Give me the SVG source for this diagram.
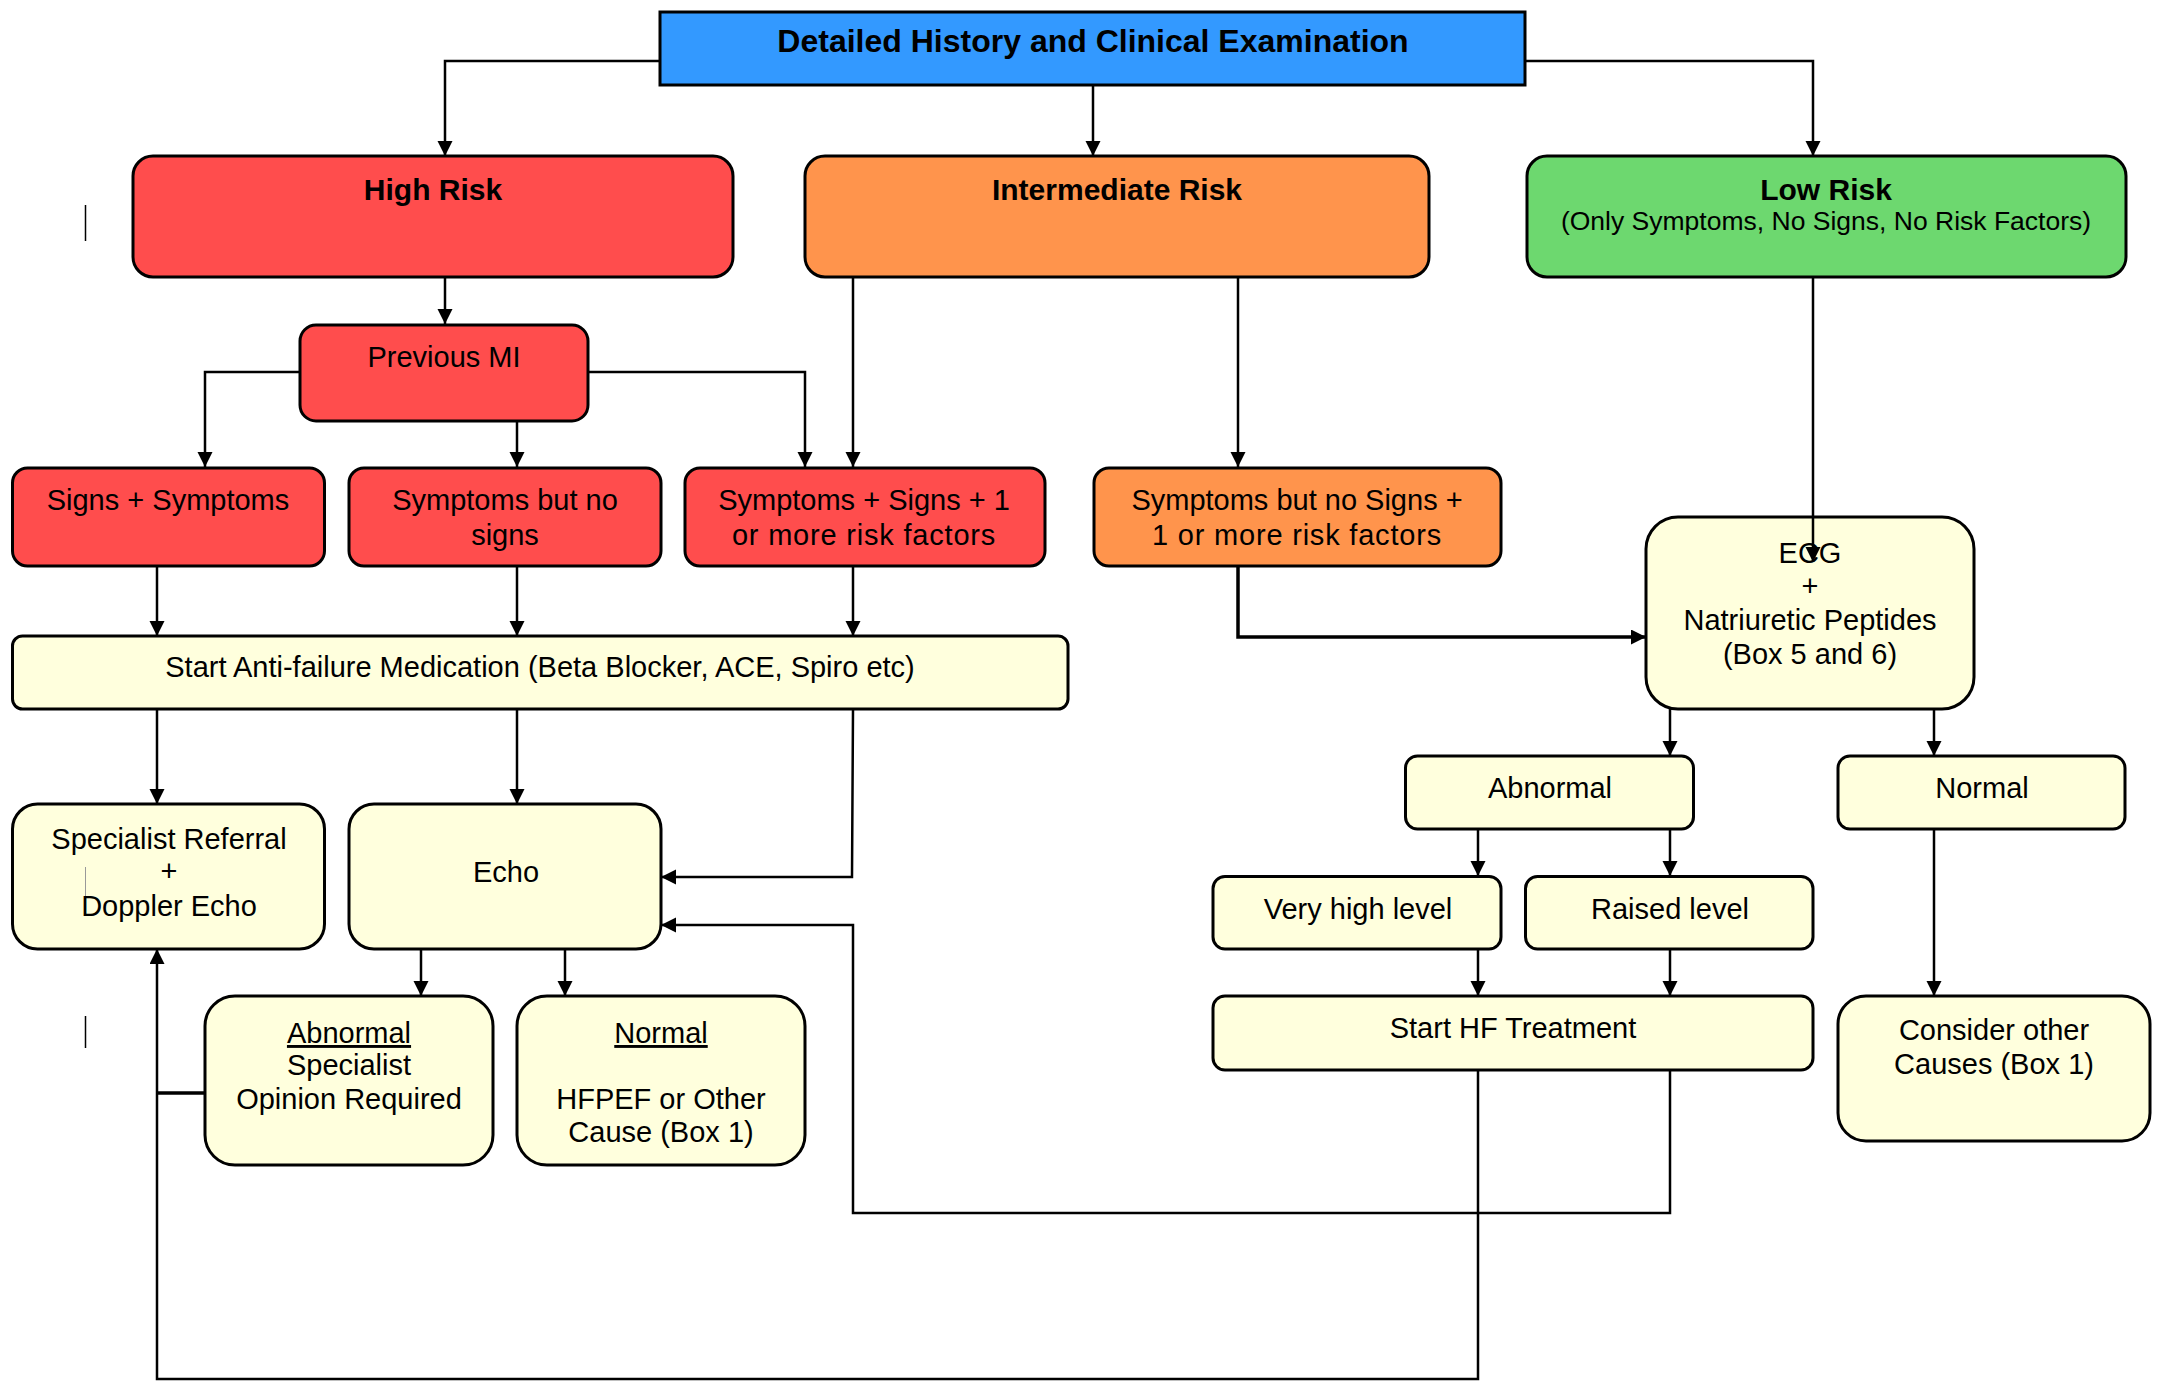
<svg xmlns="http://www.w3.org/2000/svg" width="2161" height="1381" viewBox="0 0 2161 1381">
<defs>
<marker id="arr" markerUnits="userSpaceOnUse" markerWidth="16" markerHeight="16" refX="15" refY="7.5" orient="auto">
<path d="M0,0 L15,7.5 L0,15 z" fill="#000"/>
</marker>
<style>
.box{stroke:#000;stroke-width:3}
.red{fill:#FF4D4D}
.org{fill:#FF944C}
.grn{fill:#6DD86F}
.yel{fill:#FFFFDD}
.blu{fill:#3399FF}
text{font-family:"Liberation Sans",Arial,sans-serif;font-size:29px;fill:#000;text-anchor:middle}
.b{font-weight:bold;font-size:30px}
.t{font-weight:bold;font-size:32px}
.s{font-size:26.5px}
.u{text-decoration:underline}
.w{letter-spacing:0.8px}
.c{fill:none;stroke:#000;stroke-width:2.5}
.ca{fill:none;stroke:#000;stroke-width:2.5;marker-end:url(#arr)}
</style>
</defs>
<rect width="2161" height="1381" fill="#fff"/>
<g id="n-title"><rect class="box blu" x="660" y="12" width="865" height="73"/><text class="t" x="1093" y="52">Detailed History and Clinical Examination</text></g>
<g id="n-high"><rect class="box red" x="133" y="156" width="600" height="121" rx="20"/><text class="b" x="433" y="200">High Risk</text></g>
<g id="n-inter"><rect class="box org" x="805" y="156" width="624" height="121" rx="20"/><text class="b" x="1117" y="200">Intermediate Risk</text></g>
<g id="n-low"><rect class="box grn" x="1527" y="156" width="599" height="121" rx="20"/><text class="b" x="1826" y="200">Low Risk</text><text class="s" x="1826" y="230">(Only Symptoms, No Signs, No Risk Factors)</text></g>
<g id="n-prevmi"><rect class="box red" x="300" y="325" width="288" height="96" rx="16"/><text x="444" y="367">Previous MI</text></g>
<g id="n-signs"><rect class="box red" x="12.5" y="468" width="312" height="98" rx="15"/><text x="168" y="510">Signs + Symptoms</text></g>
<g id="n-symnosigns"><rect class="box red" x="349" y="468" width="312" height="98" rx="15"/><text x="505" y="510">Symptoms but no</text><text x="505" y="545">signs</text></g>
<g id="n-symsignsrisk"><rect class="box red" x="685" y="468" width="360" height="98" rx="15"/><text x="864" y="510">Symptoms + Signs + 1</text><text class="w" x="864" y="545">or more risk factors</text></g>
<g id="n-symrisk"><rect class="box org" x="1094" y="468" width="407" height="98" rx="15"/><text x="1297" y="510">Symptoms but no Signs +</text><text class="w" x="1297" y="545">1 or more risk factors</text></g>
<g id="n-med"><rect class="box yel" x="12.5" y="636" width="1055.5" height="73" rx="10"/><text x="540" y="677">Start Anti-failure Medication (Beta Blocker, ACE, Spiro etc)</text></g>
<g id="n-ecg"><rect class="box yel" x="1646" y="517" width="328" height="192" rx="32"/><text x="1810" y="563">ECG</text><text x="1810" y="596">+</text><text x="1810" y="630">Natriuretic Peptides</text><text x="1810" y="664">(Box 5 and 6)</text></g>
<g id="n-specref"><rect class="box yel" x="12.5" y="804" width="312" height="145" rx="25"/><text x="169" y="849">Specialist Referral</text><text x="169" y="881">+</text><text x="169" y="916">Doppler Echo</text></g>
<g id="n-echo"><rect class="box yel" x="349" y="804" width="312" height="145" rx="25"/><text x="506" y="882">Echo</text></g>
<g id="n-echo-abn"><rect class="box yel" x="205" y="996" width="288" height="169" rx="30"/><text class="u" x="349" y="1043">Abnormal</text><text x="349" y="1075">Specialist</text><text x="349" y="1109">Opinion Required</text></g>
<g id="n-echo-norm"><rect class="box yel" x="517" y="996" width="288" height="169" rx="30"/><text class="u" x="661" y="1043">Normal</text><text x="661" y="1109">HFPEF or Other</text><text x="661" y="1142">Cause (Box 1)</text></g>
<g id="n-abn"><rect class="box yel" x="1405.5" y="756" width="288" height="73" rx="12"/><text x="1550" y="798">Abnormal</text></g>
<g id="n-norm"><rect class="box yel" x="1838" y="756" width="287" height="73" rx="12"/><text x="1982" y="798">Normal</text></g>
<g id="n-veryhigh"><rect class="box yel" x="1213" y="876.5" width="288" height="72.5" rx="12"/><text x="1358" y="919">Very high level</text></g>
<g id="n-raised"><rect class="box yel" x="1525.5" y="876.5" width="287.5" height="72.5" rx="12"/><text x="1670" y="919">Raised level</text></g>
<g id="n-hf"><rect class="box yel" x="1213" y="996" width="600" height="74" rx="12"/><text x="1513" y="1038">Start HF Treatment</text></g>
<g id="n-consider"><rect class="box yel" x="1838" y="996" width="312" height="145" rx="28"/><text x="1994" y="1040">Consider other</text><text x="1994" y="1074">Causes (Box 1)</text></g>
<g id="connectors">
<path class="ca" d="M660,61 H445 V156"/>
<path class="ca" d="M1093,85 V156"/>
<path class="ca" d="M1525,61 H1813 V156"/>
<path class="ca" d="M445,277 V324"/>
<path class="ca" d="M300,372 H205 V467"/>
<path class="ca" d="M517,421 V467"/>
<path class="ca" d="M588,372 H805 V467"/>
<path class="ca" d="M853,277 V467"/>
<path class="ca" d="M1238,277 V467"/>
<path class="ca" d="M1813,277 V562"/>
<path class="ca" d="M157,566 V636"/>
<path class="ca" d="M517,566 V636"/>
<path class="ca" d="M853,566 V636"/>
<path class="ca" d="M157,709 V804"/>
<path class="ca" d="M517,709 V804"/>
<path class="ca" d="M853,709 L852,877 H661"/>
<path class="ca" style="stroke-width:3.5" d="M1238,566 V637 H1646"/>
<path class="ca" d="M1670,709 V756"/>
<path class="ca" d="M1934,709 V756"/>
<path class="ca" d="M1478,829 V876"/>
<path class="ca" d="M1670,829 V876"/>
<path class="ca" d="M1478,949 V996"/>
<path class="ca" d="M1670,949 V996"/>
<path class="ca" d="M1934,829 V996"/>
<path class="ca" d="M421,949 V996"/>
<path class="ca" d="M565,949 V996"/>
<path class="ca" d="M1670,1070 V1213 H853 V925 H661"/>
<path class="ca" d="M1478,1070 V1379 H157 V949"/>
<path class="c" style="stroke-width:3.5" d="M205,1093 H157"/>
<path d="M85.5,205 V241 M85.5,1016 V1048" stroke="#000" stroke-width="1.5"/>
<path d="M85.5,867 V896" stroke="#999" stroke-width="1"/>
</g>
</svg>
